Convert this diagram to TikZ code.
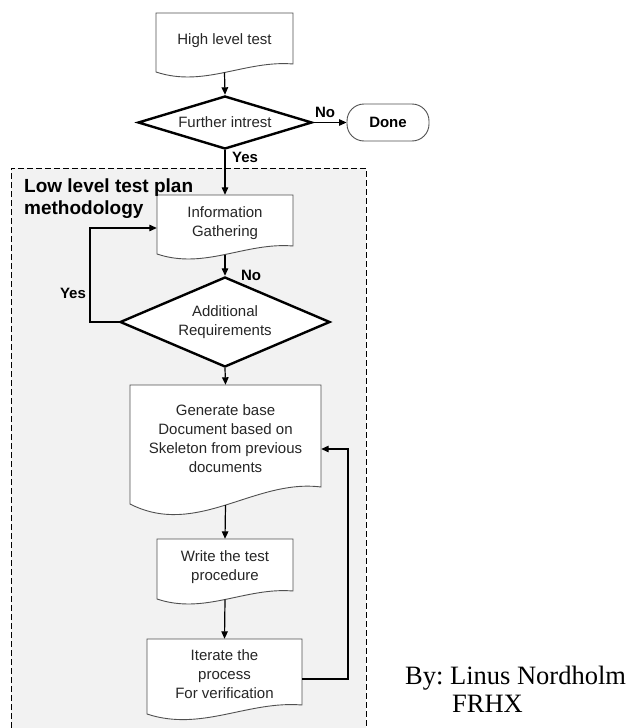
\documentclass[tikz,border=0pt]{standalone}
\usepackage{fontspec}
\setmainfont{Liberation Sans}
\newfontfamily\bylinefont{Liberation Serif}
\usetikzlibrary{shapes.geometric,arrows.meta}

\definecolor{panelgray}{HTML}{F2F2F2}
\definecolor{edgegray}{HTML}{505050}
\definecolor{inkgray}{HTML}{262626}

% Document symbol: name, centre x, top y, width, right-bottom y, wave depth, text
\newcommand\docbox[7]{%
  \draw[docline] (#2-#4/2,#3) -- (#2+#4/2,#3) -- (#2+#4/2,#5)
    .. controls (#2+0.15*#4,#5-0.5*#6) and (#2-0.15*#4,#5+3*#6) .. (#2-#4/2,#5+#6) -- cycle;
  \node[doctext, minimum width=#4pt, minimum height={(#5-#3+5)*1pt}] (#1) at (#2,{(#3+#5+5)/2}) {#7};
  \coordinate (#1-b) at (#2,{#5+1.0625*#6});
}

\begin{document}
\frenchspacing
\begin{tikzpicture}[x=1pt,y=-1pt,
  docline/.style={draw=edgegray, line width=0.9pt, fill=white},
  doctext/.style={inner sep=0pt, align=center, text=inkgray, font=\fontsize{15}{19}\selectfont},
  decision/.style={diamond, draw=black, line width=2.4pt, fill=white, inner sep=0pt,
    align=center, text=inkgray, font=\fontsize{15}{19}\selectfont},
  terminal/.style={draw=edgegray, line width=0.9pt, fill=white, rounded corners=17pt,
    inner sep=0pt, font=\bfseries\fontsize{15}{18}\selectfont},
  flow/.style={-{Triangle[length=7.5pt,width=6.5pt]}, line width=1.2pt, draw=black},
  tag/.style={inner sep=0pt, font=\bfseries\fontsize{15}{18}\selectfont},
]
\useasboundingbox (0,0) rectangle (628,728);
\fill[white] (0,0) rectangle (628,728);

% dashed panel of the low level methodology
\fill[panelgray] (11,168) rectangle (366,728);
\draw[dashed, dash pattern=on 6pt off 3pt, line width=0.9pt] (11,728) -- (11,168) -- (366,168) -- (366,728);

% high level part
\docbox{high}{224.5}{13}{137}{64}{8}{High level test}
\node[decision, shape aspect=3.28, minimum width=174pt, minimum height=53pt] (further) at (225,122.5) {Further intrest};
\node[terminal, minimum width=82pt, minimum height=37pt] (done) at (388,122.5) {Done};

% low level part
\docbox{info}{225}{195}{136}{246}{8}{Information\\Gathering}
\node[decision, shape aspect=2.33, minimum width=210pt, minimum height=90pt] (addreq) at (225,322) {Additional\\Requirements};
\docbox{gen}{225.5}{385}{191}{487}{17}{Generate base\\Document based on\\Skeleton from previous\\documents}
\docbox{write}{225}{539}{136}{591}{8}{Write the test\\procedure}
\docbox{iter}{224.5}{639}{155}{705}{9}{Iterate the\\process\\For verification}

\node[anchor=north west, align=left, inner sep=0pt,
  font=\bfseries\fontsize{19}{21.5}\selectfont] (title) at (24,179) {Low level test plan\\methodology};

% connectors
\draw[flow] (high-b) -- (further.north);
\draw[flow] (further.east) -- (done.west);
\draw[flow] (further.south) -- (info.north);
\draw[flow] (info-b) -- (addreq.north);
\draw[flow] (addreq.west) -- (90,322) |- ([yshift=-5pt]info.west);
\draw[flow] (addreq.south) -- (gen.north);
\draw[flow] (gen-b) -- (write.north);
\draw[flow] (write-b) -- (iter.north);
\draw[flow] ([yshift=-4.5pt]iter.east) -- (348,679) |- ([yshift=-10.5pt]gen.east);

% branch labels
\node[tag] (nodone) at (325,112) {No};
\node[tag] (yesfurther) at (245,157) {Yes};
\node[tag] (noreq) at (251,275) {No};
\node[tag] (yesreq) at (73,293) {Yes};

% author
\node[anchor=base west, inner sep=0pt, font=\bylinefont\fontsize{26.5}{30}\selectfont] (by) at (405,684) {By: Linus Nordholm};
\node[anchor=base west, inner sep=0pt, font=\bylinefont\fontsize{26.5}{30}\selectfont] (frhx) at (452,712) {FRHX};
\end{tikzpicture}
\end{document}
